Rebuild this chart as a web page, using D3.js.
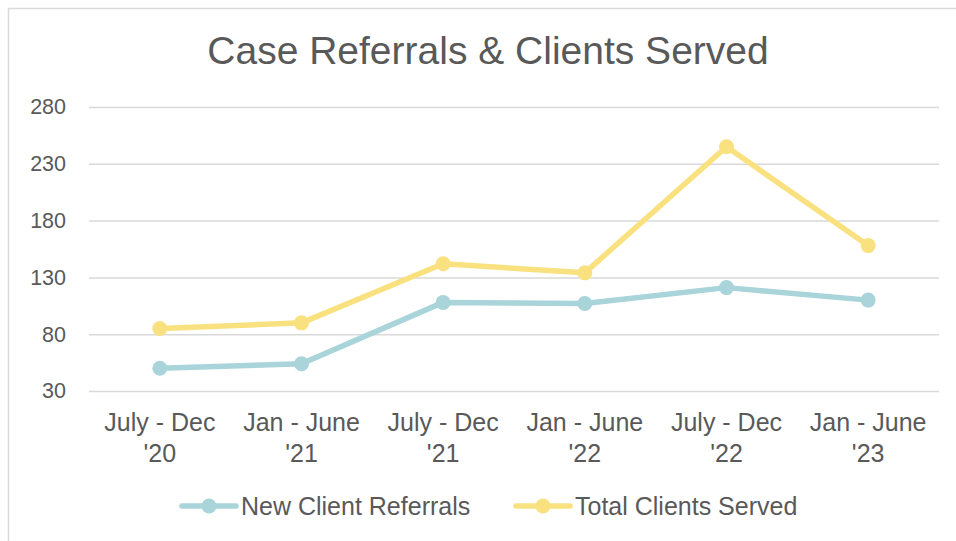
<!DOCTYPE html>
<html>
<head>
<meta charset="utf-8">
<script src="https://cdn.jsdelivr.net/npm/d3@7/dist/d3.min.js"></script>
<style>
  html, body { margin: 0; padding: 0; background: #fff; }
  svg text { font-family: 'Liberation Sans', Arial, sans-serif; fill: #595959; }
</style>
</head>
<body>
<div class="chart-container"></div>
<script>
'use strict';

var title = 'Case Referrals & Clients Served';
var periods = [
  ['July - Dec', "'20"],
  ['Jan - June', "'21"],
  ['July - Dec', "'21"],
  ['Jan - June', "'22"],
  ['July - Dec', "'22"],
  ['Jan - June', "'23"]
];
var newReferrals = [50, 54, 108, 107, 121, 110];
var totalServed = [85, 90, 142, 134, 245, 158];
var yTicks = [30, 80, 130, 180, 230, 280];
var seriesNames = ['New Client Referrals', 'Total Clients Served'];
var seriesColors = ['#a9d4da', '#fae180'];

drawChart();

function drawChart() {
  var width = 956, height = 541,
    plot = { left: 89, right: 939, top: 107, bottom: 391 };

  var svg = d3.select('.chart-container').append('svg')
    .attr('width', width)
    .attr('height', height);

  // chart frame (runs off the right and bottom edge in the original)
  svg.append('rect')
    .attr('x', 8.5).attr('y', 8.5)
    .attr('width', width + 20).attr('height', height + 20)
    .attr('fill', '#fff')
    .attr('stroke', '#d9d9d9')
    .attr('stroke-width', 1.5);

  svg.append('text')
    .attr('x', 488).attr('y', 64)
    .attr('text-anchor', 'middle')
    .style('font-size', '39px')
    .text(title);

  var x = d3.scaleBand()
    .domain(d3.range(periods.length))
    .range([plot.left, plot.right]);

  var y = d3.scaleLinear()
    .domain([30, 280])
    .range([plot.bottom, plot.top]);

  // horizontal gridlines
  var yAxis = d3.axisLeft(y)
    .tickValues(yTicks)
    .tickSize(-(plot.right - plot.left))
    .tickPadding(23);

  svg.append('g')
    .attr('class', 'y-axis')
    .attr('transform', 'translate(' + plot.left + ',0)')
    .call(yAxis)
    .call(function(g) {
      g.select('.domain').remove();
      g.selectAll('.tick line')
        .attr('stroke', '#d9d9d9')
        .attr('stroke-width', 1.5);
      g.selectAll('.tick text')
        .attr('fill', '#595959')
        .style('font-size', '21.5px')
        .style('font-family', "'Liberation Sans', Arial, sans-serif");
    });

  // two-line category labels
  var xAxis = d3.axisBottom(x).tickSize(0).tickFormat('');
  var xg = svg.append('g')
    .attr('class', 'x-axis')
    .attr('transform', 'translate(0,' + plot.bottom + ')')
    .call(xAxis);
  xg.select('.domain').remove();
  xg.selectAll('.tick').each(function(i) {
    var t = d3.select(this).append('text')
      .attr('text-anchor', 'middle')
      .attr('fill', '#595959')
      .style('font-size', '25px')
      .style('font-family', "'Liberation Sans', Arial, sans-serif");
    t.append('tspan').attr('x', 0).attr('y', 40).text(periods[i][0]);
    t.append('tspan').attr('x', 0).attr('y', 71).text(periods[i][1]);
  });

  var cx = function(d, i) { return x(i) + x.bandwidth() / 2; };
  var line = d3.line()
    .x(cx)
    .y(function(d) { return y(d); });

  [newReferrals, totalServed].forEach(function(values, s) {
    var g = svg.append('g').attr('class', 'series');
    g.append('path')
      .datum(values)
      .attr('d', line)
      .attr('fill', 'none')
      .attr('stroke', seriesColors[s])
      .attr('stroke-width', 5.5)
      .attr('stroke-linejoin', 'round');
    g.selectAll('circle')
      .data(values)
      .enter()
      .append('circle')
      .attr('cx', cx)
      .attr('cy', function(d) { return y(d); })
      .attr('r', 7.5)
      .attr('fill', seriesColors[s]);
  });

  // legend
  var legendY = 506;
  var legendX = [182, 516];
  seriesNames.forEach(function(name, s) {
    var g = svg.append('g')
      .attr('transform', 'translate(' + legendX[s] + ',' + legendY + ')');
    g.append('line')
      .attr('x1', 0).attr('x2', 54)
      .attr('stroke', seriesColors[s])
      .attr('stroke-width', 5.5)
      .attr('stroke-linecap', 'round');
    g.append('circle')
      .attr('cx', 27).attr('r', 7.5)
      .attr('fill', seriesColors[s]);
    g.append('text')
      .attr('x', 59).attr('y', 9)
      .style('font-size', '25px')
      .text(name);
  });
}
</script>
</body>
</html>
